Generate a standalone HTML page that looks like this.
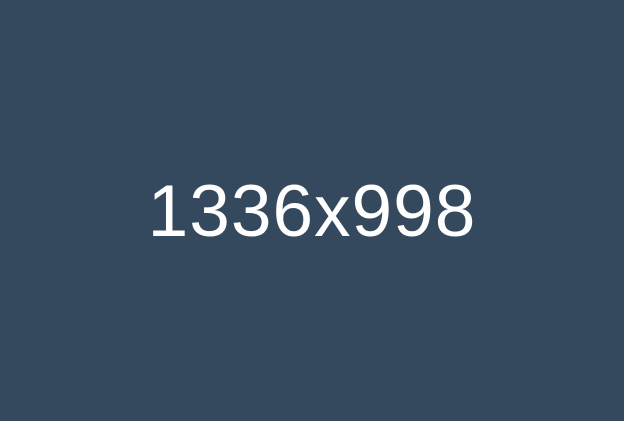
<!DOCTYPE html>
<html>
<head>
<meta charset="utf-8">
<style>
  html, body { margin: 0; padding: 0; }
  body { width: 624px; height: 421px; background: #34495e; overflow: hidden; position: relative; }
  .label {
    position: absolute; left: 0; width: 624px; top: 170px;
    text-align: center; color: #ffffff; letter-spacing: 1px;
    font-family: "Liberation Sans", sans-serif; font-size: 73px; line-height: 84px;
  }
</style>
</head>
<body>
  <div class="label">1336x998</div>
</body>
</html>
